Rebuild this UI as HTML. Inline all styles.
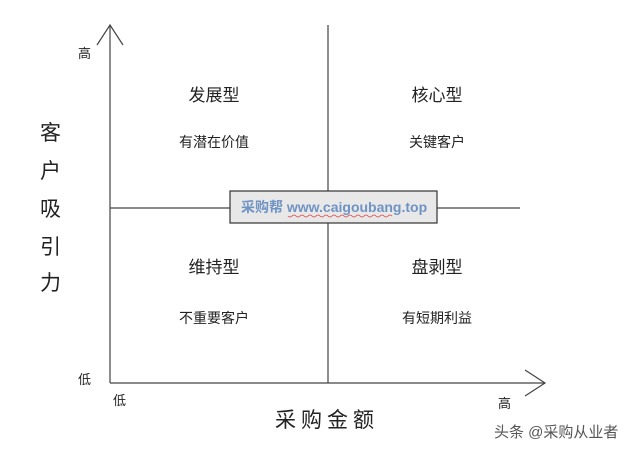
<!DOCTYPE html>
<html><head><meta charset="utf-8"><style>
body{margin:0;background:#fff;width:640px;height:453px;overflow:hidden}
svg text{font-family:"Liberation Sans","Noto Sans CJK SC",sans-serif;fill:#222}
</style></head><body>
<svg width="640" height="453" viewBox="0 0 640 453">
<g stroke="#444" stroke-width="1.2" fill="none">
<line x1="110" y1="25" x2="110" y2="383"/>
<line x1="110" y1="383" x2="545" y2="383"/>
<polyline points="97,45 110,25 123,45"/>
<polyline points="525,370 545,383 525,396"/>
<line x1="328" y1="25" x2="328" y2="383"/>
<line x1="110" y1="208" x2="520" y2="208"/>
</g>
<rect x="230" y="191" width="207" height="32" fill="#e8e8e8" stroke="#333" stroke-width="1.2"/>
<text x="241" y="212" font-size="14" style="fill:#6f93c3" font-weight="bold">采购帮 www.caigoubang.top</text>
<path d="M288 216 q2 2 4 0 t4 0 t4 0 t4 0 t4 0 t4 0 t4 0 t4 0 t4 0 t4 0 t4 0 t4 0 t4 0 t4 0 t4 0 t4 0 t4 0 t4 0 t4 0 t4 0 t4 0 t4 0 t4 0 t4 0 t4 0 t4 0" stroke="#d44" stroke-width="0.8" fill="none"/>
<text x="78" y="58" font-size="13">高</text>
<text x="78" y="384" font-size="13">低</text>
<text x="113" y="405" font-size="13">低</text>
<text x="498" y="408" font-size="13">高</text>
<g font-size="21">
<text x="40" y="140">客</text><text x="40" y="178">户</text><text x="40" y="216">吸</text><text x="40" y="254">引</text><text x="40" y="290">力</text>
</g>
<text x="275" y="427" font-size="21" letter-spacing="5">采购金额</text>
<g font-size="17" text-anchor="middle">
<text x="214" y="101">发展型</text><text x="437" y="101">核心型</text>
<text x="214" y="273">维持型</text><text x="437" y="273">盘剥型</text>
</g>
<g font-size="14" text-anchor="middle">
<text x="214" y="147">有潜在价值</text><text x="437" y="147">关键客户</text>
<text x="214" y="323">不重要客户</text><text x="437" y="323">有短期利益</text>
</g>
<text x="494" y="437" font-size="15" style="fill:#555">头条 @采购从业者</text>
</svg>
</body></html>
